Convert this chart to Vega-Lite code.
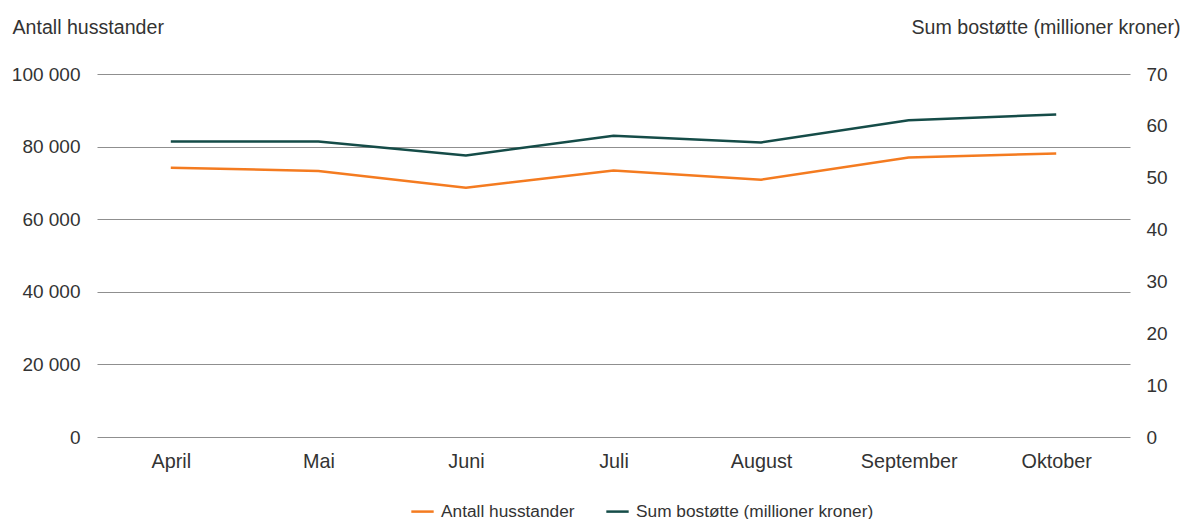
{
  "$schema": "https://vega.github.io/schema/vega-lite/v6.json",
  "width": 1033,
  "height": 363,
  "autosize": {"type": "none"},
  "padding": {"left": 97, "top": 74, "right": 52, "bottom": 82},
  "background": "white",
  "config": {
    "locale": {"number": {"decimal": ",", "thousands": " ", "grouping": [3], "currency": ["", " kr"]}},
    "font": "Liberation Sans",
    "view": {"stroke": null},
    "axis": {"labelFont": "Liberation Sans", "titleFont": "Liberation Sans", "labelColor": "#333333", "titleColor": "#333333", "labelFontSize": 19, "titleFontSize": 19.6, "titleFontWeight": "normal"},
    "legend": {"labelFont": "Liberation Sans", "labelFontSize": 17.3, "labelColor": "#333333", "labelLimit": 500}
  },
  "data": {
    "values": [
      {"maned": "April", "husstander": 74200, "bostotte": 57.0},
      {"maned": "Mai", "husstander": 73300, "bostotte": 57.0},
      {"maned": "Juni", "husstander": 68700, "bostotte": 54.3},
      {"maned": "Juli", "husstander": 73400, "bostotte": 58.1},
      {"maned": "August", "husstander": 70900, "bostotte": 56.8},
      {"maned": "September", "husstander": 77000, "bostotte": 61.1},
      {"maned": "Oktober", "husstander": 78100, "bostotte": 62.2}
    ]
  },
  "encoding": {
    "x": {
      "field": "maned",
      "type": "ordinal",
      "sort": null,
      "scale": {"type": "point", "padding": 0.5},
      "axis": {"title": null, "labelAngle": 0, "domain": false, "ticks": false, "grid": false, "labelPadding": 14, "labelFontSize": 19.8}
    }
  },
  "layer": [
    {
      "mark": {"type": "line", "strokeWidth": 2.5},
      "encoding": {
        "y": {
          "field": "husstander",
          "type": "quantitative",
          "scale": {"domain": [0, 100000], "nice": false},
          "axis": {
            "title": "Antall husstander",
            "titleAngle": 0,
            "titleAlign": "left",
            "titleBaseline": "alphabetic",
            "titleX": -85,
            "titleY": -41,
            "values": [0, 20000, 40000, 60000, 80000, 100000],
            "format": ",d",
            "domain": false,
            "ticks": false,
            "grid": true,
            "gridColor": "#8f8f8f",
            "gridWidth": 1,
            "labelPadding": 17
          }
        },
        "color": {
          "datum": "Antall husstander",
          "type": "nominal",
          "scale": {"domain": ["Antall husstander", "Sum bostøtte (millioner kroner)"], "range": ["#f47b20", "#154c48"]},
          "legend": {
            "title": null,
            "orient": "none",
            "legendX": 313,
            "legendY": 425,
            "direction": "horizontal",
            "symbolType": "stroke",
            "symbolSize": 500,
            "symbolStrokeWidth": 2.5,
            "labelOffset": 6,
            "columnPadding": 26
          }
        }
      }
    },
    {
      "mark": {"type": "line", "strokeWidth": 2.5},
      "encoding": {
        "y": {
          "field": "bostotte",
          "type": "quantitative",
          "scale": {"domain": [0, 70], "nice": false},
          "axis": {
            "orient": "right",
            "title": "Sum bostøtte (millioner kroner)",
            "titleAngle": 0,
            "titleAlign": "right",
            "titleBaseline": "alphabetic",
            "titleX": 50,
            "titleY": -41,
            "values": [0, 10, 20, 30, 40, 50, 60, 70],
            "domain": false,
            "ticks": false,
            "grid": false,
            "labelPadding": 16
          }
        },
        "color": {"datum": "Sum bostøtte (millioner kroner)", "type": "nominal"}
      }
    }
  ],
  "resolve": {"scale": {"y": "independent"}}
}
